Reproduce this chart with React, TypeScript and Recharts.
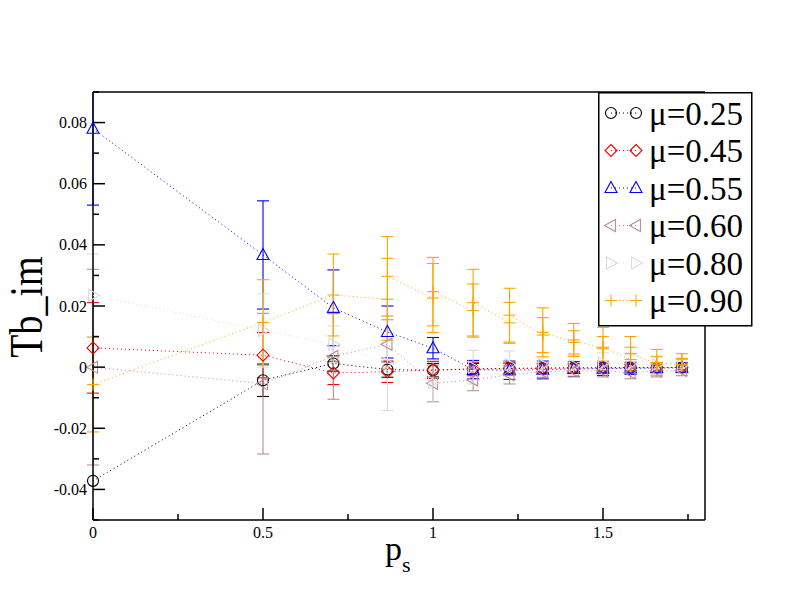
import React from "react";
import { ScatterChart, Scatter, XAxis, YAxis, ErrorBar, Legend } from "recharts";

// momentum values p_s (sqrt(n)/2)
const pS = [0, 0.5, 0.707, 0.866, 1, 1.118, 1.225, 1.323, 1.414, 1.5, 1.581, 1.658, 1.732];

const mu025 = [-0.0372, -0.0043, 0.0012, -0.0008, -0.001, -0.0006, -0.0004, -0.0003, -0.0002, -0.0002, -0.0001, -0.0001, -0.0001];
const mu025Err = [null, 0.0053, 0.0025, 0.0025, 0.0022, 0.0018, 0.0016, 0.0014, 0.0012, 0.0011, 0.001, 0.0009, 0.0008];

const mu045 = [0.0063, 0.0039, -0.0019, -0.0015, -0.0009, -0.0006, -0.0005, -0.0004, -0.0003, -0.0003, -0.0002, -0.0002, -0.0001];
const mu045Err = [0.0148, 0.0074, 0.0038, 0.0035, 0.0028, 0.0022, 0.002, 0.0017, 0.0015, 0.0013, 0.0012, 0.0011, 0.001];

const mu055 = [0.078, 0.0367, 0.0194, 0.0115, 0.0062, -0.0008, -0.001, -0.0008, -0.0006, -0.0005, -0.0004, -0.0003, -0.0002];
const mu055Err = [0.025, 0.0177, 0.0124, 0.0085, 0.0035, 0.003, 0.003, 0.0028, 0.0024, 0.0022, 0.002, 0.0018, 0.0016];

const mu060 = [0, -0.0054, 0.0035, 0.0075, -0.0053, -0.0042, -0.0025, -0.0015, -0.0012, -0.0012, -0.0018, -0.0012, -0.001];
const mu060Err = [0.032, 0.023, 0.014, 0.008, 0.006, 0.0035, 0.003, 0.0025, 0.002, 0.002, 0.002, 0.002, 0.0018];

const mu080 = [0.0235, 0.012, 0.0075, 0.0013, -0.005, 0, 0.0008, 0.0008, 0.0005, 0.0013, 0.001, 0.0008, 0.0005];
const mu080Err = [0.0135, 0.012, 0.006, 0.0155, 0.0065, 0.0055, 0.0045, 0.0038, 0.0032, 0.0034, 0.003, 0.0028, 0.0025];

// mu=0.90 has two measurements at most momenta
const mu090X = [0, 0.5, 0.707, 0.866, 0.866, 1, 1, 1.118, 1.118, 1.225, 1.225, 1.323, 1.323, 1.414, 1.414, 1.5, 1.5, 1.581, 1.581, 1.658, 1.658, 1.732, 1.732];
const mu090 = [-0.0057, 0.0146, 0.0236, 0.0222, 0.0297, 0.0226, 0.0247, 0.0185, 0.0211, 0.0145, 0.017, 0.0105, 0.0114, 0.0081, 0.0089, 0.006, 0.0065, 0.0025, 0.0045, 0.001, 0.0015, 0.0008, 0.0026];
const mu090Err = [0.0155, 0.014, 0.0134, 0.0134, 0.013, 0.0113, 0.0112, 0.0087, 0.0109, 0.0067, 0.0088, 0.0057, 0.008, 0.0038, 0.0054, 0.004, 0.0065, 0.004, 0.0055, 0.0024, 0.0043, 0.002, 0.0018];

const xMajor = [0, 0.5, 1, 1.5];
const xLabels = ["0", "0.5", "1", "1.5"];
const xMinor = [0.25, 0.75, 1.25, 1.75];
const yMajor = [-0.04, -0.02, 0, 0.02, 0.04, 0.06, 0.08];
const yLabels = ["-0.04", "-0.02", "0", "0.02", "0.04", "0.06", "0.08"];
const yMinor = [-0.05, -0.03, -0.01, 0.01, 0.03, 0.05, 0.07, 0.09];

const FONT = "Liberation Serif";
const txt = { fontFamily: "'Liberation Serif', serif", fill: "#000" };

type Kind = "circle" | "diamond" | "up" | "left" | "right" | "plus";

const series: { name: string; color: string; kind: Kind; x: number[]; y: number[]; err: (number | null)[] }[] = [
  { name: "μ=0.25", color: "#000000", kind: "circle", x: pS, y: mu025, err: mu025Err },
  { name: "μ=0.45", color: "#ff0000", kind: "diamond", x: pS, y: mu045, err: mu045Err },
  { name: "μ=0.55", color: "#0000ff", kind: "up", x: pS, y: mu055, err: mu055Err },
  { name: "μ=0.60", color: "#bc8f8f", kind: "left", x: pS, y: mu060, err: mu060Err },
  { name: "μ=0.80", color: "#dcdcdc", kind: "right", x: pS, y: mu080, err: mu080Err },
  { name: "μ=0.90", color: "#ffa500", kind: "plus", x: mu090X, y: mu090, err: mu090Err },
];

function marker(kind: Kind, cx: number, cy: number, color: string) {
  const s = { fill: "none", stroke: color, strokeWidth: 1.1 };
  switch (kind) {
    case "circle":
      return <circle cx={cx} cy={cy} r={5.5} {...s} />;
    case "diamond":
      return <polygon points={`${cx},${cy - 6} ${cx + 6},${cy} ${cx},${cy + 6} ${cx - 6},${cy}`} {...s} />;
    case "up":
      return <polygon points={`${cx},${cy - 6.5} ${cx + 6},${cy + 4.5} ${cx - 6},${cy + 4.5}`} {...s} />;
    case "left":
      return <polygon points={`${cx - 6.5},${cy} ${cx + 4.5},${cy - 6} ${cx + 4.5},${cy + 6}`} {...s} />;
    case "right":
      return <polygon points={`${cx + 6.5},${cy} ${cx - 4.5},${cy - 6} ${cx - 4.5},${cy + 6}`} {...s} />;
    default:
      return (
        <g {...s}>
          <line x1={cx - 6} x2={cx + 6} y1={cy} y2={cy} />
          <line x1={cx} x2={cx} y1={cy - 6} y2={cy + 6} />
        </g>
      );
  }
}

const TICK_W = 1.5;

function BottomTick({ x, payload }: any) {
  const i = xMajor.indexOf(payload.value);
  const len = i >= 0 ? 12 : 6;
  return (
    <g>
      <line x1={x} x2={x} y1={520} y2={520 - len} stroke="#000" strokeWidth={TICK_W} />
      {i >= 0 && (
        <text x={x} y={538} textAnchor="middle" fontSize={16} fontFamily={FONT} style={txt}>
          {xLabels[i]}
        </text>
      )}
    </g>
  );
}

function TopTick({ x, payload }: any) {
  const len = xMajor.indexOf(payload.value) >= 0 ? 12 : 6;
  return <line x1={x} x2={x} y1={92} y2={92 + len} stroke="#000" strokeWidth={TICK_W} />;
}

function LeftTick({ y, payload }: any) {
  const i = yMajor.indexOf(payload.value);
  const len = i >= 0 ? 12 : 6;
  return (
    <g>
      <line x1={93} x2={93 + len} y1={y} y2={y} stroke="#000" strokeWidth={TICK_W} />
      {i >= 0 && (
        <text x={87} y={y} dy="0.35em" textAnchor="end" fontSize={16} fontFamily={FONT} style={txt}>
          {yLabels[i]}
        </text>
      )}
    </g>
  );
}

function RightTick({ y, payload }: any) {
  const len = yMajor.indexOf(payload.value) >= 0 ? 12 : 6;
  return <line x1={705} x2={705 - len} y1={y} y2={y} stroke="#000" strokeWidth={TICK_W} />;
}

function LegendBox() {
  return (
    <svg width={156} height={236} style={{ display: "block" }}>
      <rect x={0.75} y={0.75} width={153} height={233} fill="#fff" stroke="#000" strokeWidth={1.5} />
      {series.map((s, i) => {
        const cy = 21 + i * 37.5;
        return (
          <g key={s.name}>
            <line x1={13} x2={38} y1={cy} y2={cy} stroke={s.color} strokeWidth={1} strokeDasharray="1 3" />
            {marker(s.kind, 13, cy, s.color)}
            {marker(s.kind, 38, cy, s.color)}
            <text x={51} y={cy} dy="0.35em" fontSize={33} fontFamily={FONT} style={txt}>
              {s.name}
            </text>
          </g>
        );
      })}
    </svg>
  );
}

const axisLine = { stroke: "#000", strokeWidth: 1.5 };
const xTicks = [...xMajor, ...xMinor].sort((a, b) => a - b);
const yTicks = [...yMajor, ...yMinor].sort((a, b) => a - b);

export default function App() {
  return (
    <div style={{ position: "absolute", left: 0, top: 0, width: 792, height: 612, background: "#fff" }}>
      <ScatterChart width={792} height={612} margin={{ top: 91, right: 86, bottom: 91, left: 92 }}>
        <defs>
          <clipPath id="plotClip">
            <rect x={60} y={92} width={680} height={428} />
          </clipPath>
        </defs>
        <XAxis
          type="number"
          dataKey="x"
          domain={[0, 1.8]}
          ticks={xTicks}
          interval={0}
          height={1}
          tickSize={0}
          tickMargin={0}
          tickLine={false}
          axisLine={axisLine}
          tick={<BottomTick />}
          label={() => (
            <text x={385} y={560} fontSize={34} fontFamily={FONT} style={txt}>
              p<tspan fontSize={22} dy={12}>s</tspan>
            </text>
          )}
        />
        <XAxis
          xAxisId="top"
          orientation="top"
          type="number"
          domain={[0, 1.8]}
          ticks={xTicks}
          interval={0}
          height={1}
          tickSize={0}
          tickMargin={0}
          tickLine={false}
          axisLine={axisLine}
          tick={<TopTick />}
        />
        <YAxis
          type="number"
          dataKey="y"
          domain={[-0.05, 0.09]}
          allowDataOverflow
          ticks={yTicks}
          interval={0}
          width={1}
          tickSize={0}
          tickMargin={0}
          tickLine={false}
          axisLine={axisLine}
          tick={<LeftTick />}
          label={() => (
            <text
              x={0}
              y={0}
              textAnchor="middle"
              fontSize={38}
              fontFamily={FONT}
              style={txt}
              transform="translate(42, 307) rotate(-90) scale(1, 1.2)"
            >
              Tb_im
            </text>
          )}
        />
        <YAxis
          yAxisId="right"
          orientation="right"
          type="number"
          domain={[-0.05, 0.09]}
          ticks={yTicks}
          interval={0}
          width={1}
          tickSize={0}
          tickMargin={0}
          tickLine={false}
          axisLine={axisLine}
          tick={<RightTick />}
        />
        {series.map((s) => (
          <Scatter
            key={s.name}
            name={s.name}
            data={s.x.map((v, i) => ({ x: v, y: s.y[i], err: s.err[i] }))}
            isAnimationActive={false}
            line={{ stroke: s.color, strokeWidth: 1, strokeDasharray: "1 3" }}
            shape={(p: any) => marker(s.kind, p.cx, p.cy, s.color)}
          >
            <ErrorBar
              dataKey="err"
              direction="y"
              width={6}
              stroke={s.color}
              strokeWidth={1.1}
              clipPath="url(#plotClip)"
              isAnimationActive={false}
            />
          </Scatter>
        ))}
        <Legend
          layout="vertical"
          align="center"
          verticalAlign="middle"
          content={() => <LegendBox />}
          wrapperStyle={{ left: 598, top: 92, width: 156, height: 236 }}
        />
      </ScatterChart>
    </div>
  );
}
